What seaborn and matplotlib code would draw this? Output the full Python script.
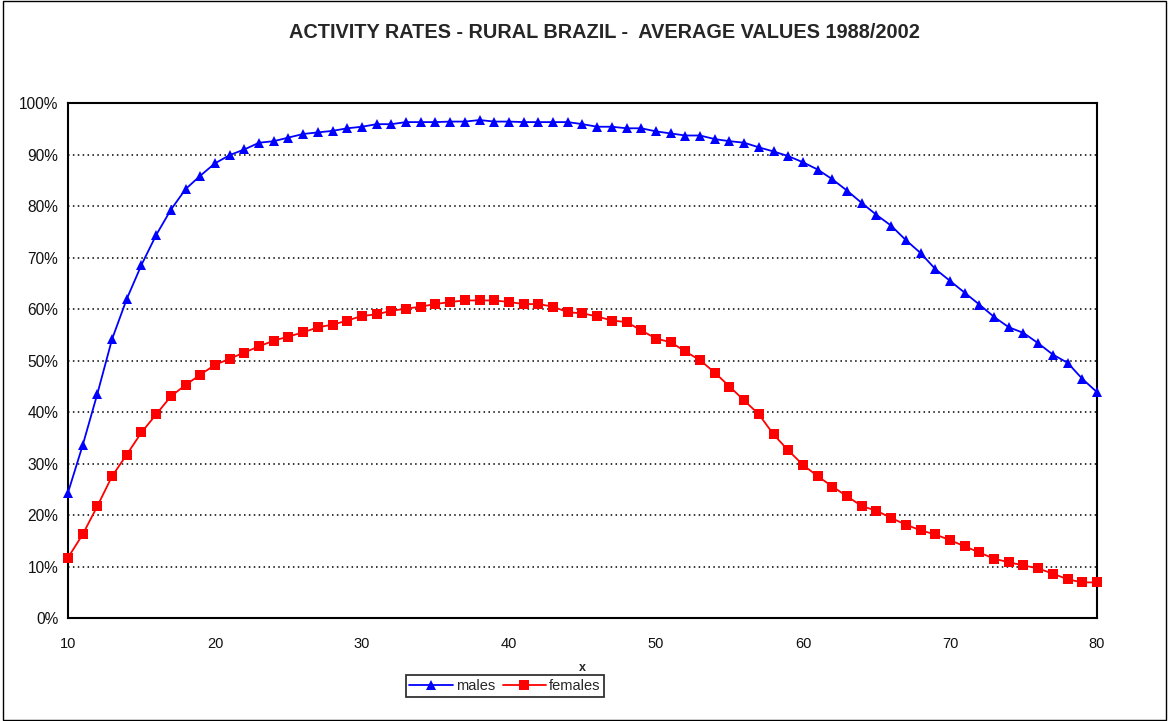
import numpy as np
import pandas as pd
import matplotlib
matplotlib.use("Agg")
import matplotlib.pyplot as plt
from matplotlib.patches import Rectangle
from matplotlib.ticker import PercentFormatter
import seaborn as sns

# Ages 10..80 and average activity rates (share of population economically active)
ages = list(range(10, 81))

males = [
    24.4, 33.6, 43.6, 54.2, 62.0, 68.6, 74.4, 79.3, 83.3, 85.9,
    88.3, 89.9, 91.0, 92.3, 92.6, 93.3, 94.0, 94.3, 94.6, 95.1,
    95.4, 95.9, 95.9, 96.3, 96.3, 96.3, 96.4, 96.4, 96.7, 96.4,
    96.4, 96.3, 96.3, 96.3, 96.3, 95.9, 95.4, 95.4, 95.1, 95.1,
    94.5, 94.1, 93.7, 93.7, 93.0, 92.6, 92.3, 91.4, 90.6, 89.7,
    88.5, 87.1, 85.2, 83.0, 80.6, 78.3, 76.2, 73.4, 70.9, 67.8,
    65.5, 63.2, 60.9, 58.5, 56.5, 55.4, 53.4, 51.2, 49.6, 46.5,
    43.9,
]

females = [
    11.8, 16.3, 21.8, 27.6, 31.8, 36.1, 39.6, 43.1, 45.3, 47.3,
    49.2, 50.4, 51.6, 52.8, 53.9, 54.7, 55.5, 56.5, 57.0, 57.8,
    58.7, 59.0, 59.7, 60.1, 60.5, 61.0, 61.4, 61.7, 61.7, 61.7,
    61.4, 61.0, 61.0, 60.5, 59.4, 59.2, 58.6, 57.8, 57.5, 55.9,
    54.3, 53.6, 51.8, 50.1, 47.7, 45.0, 42.3, 39.6, 35.7, 32.6,
    29.8, 27.6, 25.6, 23.7, 21.8, 20.9, 19.5, 18.2, 17.1, 16.3,
    15.2, 14.0, 12.8, 11.6, 10.9, 10.3, 9.7, 8.7, 7.6, 7.0,
    7.0,
]

series_names = ["males", "females"]
x_ticks = [10, 20, 30, 40, 50, 60, 70, 80]
y_ticks = [0, 10, 20, 30, 40, 50, 60, 70, 80, 90, 100]
title = "ACTIVITY RATES - RURAL BRAZIL -  AVERAGE VALUES 1988/2002"

df = pd.DataFrame({
    "x": ages * 2,
    "rate": [v / 100 for v in males] + [v / 100 for v in females],
    "sex": [series_names[0]] * len(ages) + [series_names[1]] * len(ages),
})

sns.set_style("white")
plt.rcParams["font.family"] = ["Liberation Sans", "DejaVu Sans"]

fig = plt.figure(figsize=(11.68, 7.21), dpi=100)
ax = fig.add_axes([0.0582, 0.1422, 0.881, 0.7149])

sns.lineplot(
    data=df, x="x", y="rate", hue="sex", style="sex",
    palette={"males": "#0000ff", "females": "#ff0000"},
    markers={"males": "^", "females": "s"},
    dashes=False, linewidth=1.3, markersize=7.5,
    markeredgewidth=0, ax=ax,
)
# let the end markers sit over the frame instead of being cut off
for line in ax.get_lines():
    line.set_clip_on(False)
    line.set_zorder(3)

handles, labels = ax.get_legend_handles_labels()
ax.get_legend().remove()

ax.set_xlim(10, 80)
ax.set_ylim(0, 1)
ax.set_xticks(x_ticks)
ax.set_yticks([v / 100 for v in y_ticks])
ax.yaxis.set_major_formatter(PercentFormatter(1.0, decimals=0))

ax.yaxis.grid(True, linestyle=(0, (1, 2.2)), color="black", linewidth=1.1)
ax.xaxis.grid(False)
ax.set_axisbelow(True)
for s in ax.spines.values():
    s.set_visible(True)
    s.set_color("black")
    s.set_linewidth(1.5)
    s.set_zorder(2.5)

ax.tick_params(axis="both", direction="out", length=4, width=1.5,
               colors="black", labelcolor="#111111")
ax.tick_params(axis="x", pad=9, labelsize=10.5)
ax.tick_params(axis="y", pad=3, labelsize=11.2)

ax.set_ylabel("")
ax.set_xlabel("x", fontsize=9, fontweight="bold", va="center")
ax.xaxis.set_label_coords(0.5, -0.096)

fig.text(604 / 1168, 1 - 33 / 721, title, ha="center", va="center",
         fontsize=14.3, fontweight="bold")

leg = fig.legend(handles, labels, loc="center", ncol=2,
                 bbox_to_anchor=(0.4324, 1 - 686 / 721),
                 frameon=True, fancybox=False, fontsize=10.5,
                 handlelength=3.0, handletextpad=0.2, columnspacing=0.5,
                 borderpad=0.25, borderaxespad=0)
leg.get_frame().set_edgecolor("black")
leg.get_frame().set_linewidth(1.3)

# Outer chart border
fig.patches.append(Rectangle((0.0026, 0.0014), 0.9957, 0.9972,
                             transform=fig.transFigure, fill=False,
                             edgecolor="black", linewidth=1.0))

fig.savefig("out.png", dpi=100, facecolor="white")
